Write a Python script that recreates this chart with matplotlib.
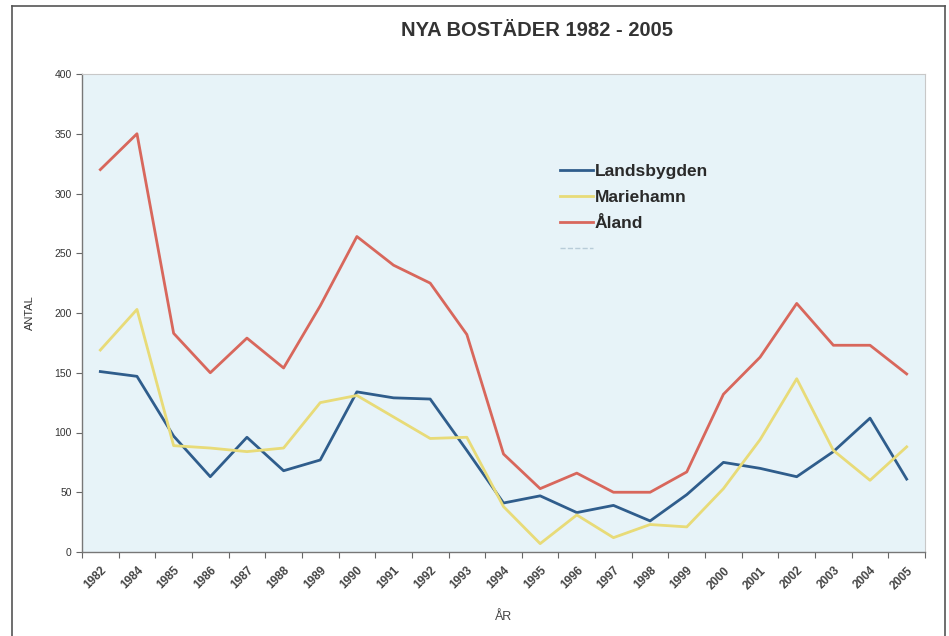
import matplotlib
matplotlib.use("Agg")
import matplotlib.pyplot as plt
from matplotlib.lines import Line2D

plt.rcParams['font.family'] = ['Liberation Sans', 'DejaVu Sans']

years = ["1982", "1984", "1985", "1986", "1987", "1988", "1989", "1990", "1991",
         "1992", "1993", "1994", "1995", "1996", "1997", "1998", "1999", "2000",
         "2001", "2002", "2003", "2004", "2005"]
landsbygden = [151, 147, 97, 63, 96, 68, 77, 134, 129, 128, 85, 41, 47, 33, 39, 26,
               48, 75, 70, 63, 84, 112, 61]
mariehamn = [169, 203, 89, 87, 84, 87, 125, 131, 113, 95, 96, 38, 7, 31, 12, 23,
             21, 53, 94, 145, 85, 60, 88]
aland = [320, 350, 183, 150, 179, 154, 206, 264, 240, 225, 182, 82, 53, 66, 50, 50,
         67, 132, 163, 208, 173, 173, 149]
yticks = [0, 50, 100, 150, 200, 250, 300, 350, 400]

fig = plt.figure(figsize=(9.49, 6.36), dpi=100)
fig.patch.set_facecolor('white')
ax = fig.add_axes([82/949, 1-552/636, (925-82)/949, (552-74)/636])
ax.set_facecolor('#E7F3F8')

x = list(range(len(years)))
ax.plot(x, landsbygden, color='#2F5D8C', lw=2.0, label='Landsbygden')
ax.plot(x, mariehamn, color='#E8DB78', lw=2.0, label='Mariehamn')
ax.plot(x, aland, color='#D8675C', lw=2.0, label='Åland')

ax.set_xlim(-0.5, len(years) - 0.5)
ax.set_ylim(0, 400)
ax.set_yticks(yticks)
ax.set_yticklabels([str(v) for v in yticks], fontsize=7.5, color='#333333')

ax.set_xticks([i - 0.5 for i in range(len(years) + 1)])
ax.set_xticklabels([])
ax.set_xticks(x, minor=True)
ax.set_xticklabels(years, minor=True, rotation=45, fontsize=8.5, color='#444444',
                   ha='right', rotation_mode='anchor', fontweight='bold')
ax.tick_params(axis='x', which='minor', length=0, pad=9)
ax.tick_params(axis='x', which='major', length=4, color='#666666', direction='out')
ax.tick_params(axis='y', length=4, color='#666666', direction='out')

for side in ['top', 'right']:
    ax.spines[side].set_color('#C8C8C8')
    ax.spines[side].set_linewidth(0.8)
for side in ['left', 'bottom']:
    ax.spines[side].set_color('#777777')
    ax.spines[side].set_linewidth(1.0)

ax.set_ylabel('ANTAL', fontsize=8, color='#333333', labelpad=14)
fig.text(504/949, 1-617/636, 'ÅR', fontsize=9, color='#444444', ha='center', va='center')
fig.text(537/949, 1-30/636, 'NYA BOSTÄDER 1982 - 2005', fontsize=14.5, fontweight='bold',
         color='#333333', ha='center', va='center')

handles, labels = ax.get_legend_handles_labels()
handles.append(Line2D([], [], color='#B8CCD8', lw=1.0, ls='--'))
labels.append(' ')
leg = ax.legend(handles, labels, loc='upper left', bbox_to_anchor=(0.567, 0.812),
                frameon=False, prop={'size': 12.5, 'weight': 'bold'},
                handlelength=1.9, handletextpad=0.1, labelspacing=0.62,
                borderpad=0, borderaxespad=0)
for t in leg.get_texts():
    t.set_color('#2A2A2A')

# outer frame
fig.add_artist(Line2D([12/949, 945/949], [1-6/636, 1-6/636], transform=fig.transFigure,
                      color='#555555', lw=1.2))
fig.add_artist(Line2D([12/949, 12/949], [0, 1-6/636], transform=fig.transFigure,
                      color='#555555', lw=1.2))
fig.add_artist(Line2D([945/949, 945/949], [0, 1-6/636], transform=fig.transFigure,
                      color='#555555', lw=1.2))

fig.savefig('out.png', dpi=100)
